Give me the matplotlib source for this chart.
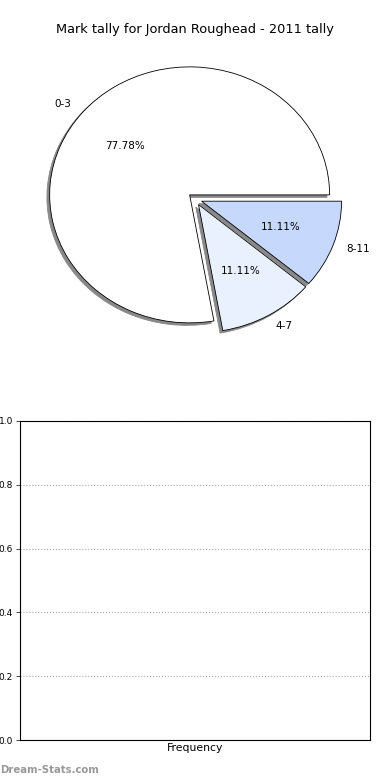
import matplotlib
matplotlib.use('Agg')
import matplotlib.pyplot as plt

# data
labels = ['0-3', '4-7', '8-11']
sizes = [7, 1, 1]
colors = ['#ffffff', '#eaf1fe', '#c6d9fd']
yticks = [0.0, 0.2, 0.4, 0.6, 0.8, 1.0]

fig = plt.figure(figsize=(3.9, 7.8), dpi=100)

# pie
ax1 = fig.add_axes([20 / 390, 421 / 780, 350 / 390, 320 / 780])
wedges, texts, autotexts = ax1.pie(sizes, labels=labels, colors=colors,
                                   explode=(0.05, 0.05, 0.05), autopct='%1.2f%%',
                                   shadow={'ox': -0.014, 'oy': -0.014,
                                           'facecolor': '#888888', 'edgecolor': '#888888',
                                           'alpha': 1.0},
                                   startangle=0,
                                   wedgeprops={'edgecolor': 'black', 'linewidth': 0.6},
                                   textprops={'fontsize': 7.5})
ax1.set_aspect('auto')
ax1.set_xlim(-1.25, 1.25)
ax1.set_ylim(-1.25, 1.25)
fig.text(0.5, 1 - 30 / 780, 'Mark tally for Jordan Roughead - 2011 tally',
         ha='center', va='center', fontsize=9.3)

# empty bar area
ax2 = fig.add_axes([20 / 390, 40 / 780, 350 / 390, 319 / 780])
ax2.set_ylim(0, 1)
ax2.set_yticks(yticks)
ax2.set_yticklabels([f'{t:.1f}' for t in yticks])
ax2.set_xticks([])
ax2.tick_params(axis='y', labelsize=6.5, length=3, width=0.5, pad=2)
ax2.yaxis.grid(True, linestyle=':', color='#aaaaaa', linewidth=0.8)
ax2.set_axisbelow(True)
for s in ax2.spines.values():
    s.set_linewidth(0.8)
ax2.set_xlabel('Frequency', fontsize=7.8, labelpad=2)

fig.text(0, 1 - 770 / 780, 'Dream-Stats.com', ha='left', va='center',
         fontsize=7.3, fontweight='bold', color='#999999')

plt.savefig('out.png', dpi=100)
